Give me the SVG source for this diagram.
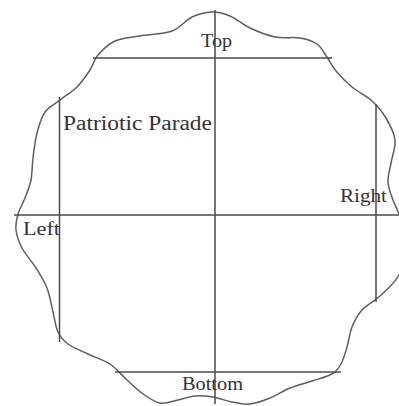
<svg xmlns="http://www.w3.org/2000/svg" width="399" height="406" viewBox="0 0 399 406">
<style>
.ln{stroke:#4a4a4a;stroke-width:1.5;fill:none}
.ol{stroke:#5e5e5e;stroke-width:1.5;fill:none}
.t{font-family:"Liberation Serif","DejaVu Serif",serif;font-size:19px;fill:#333}
.big{font-size:20px}
</style>
<rect width="399" height="406" fill="#fff"/>
<g id="outline">
<path class="ol" d="M212,12 C218.3,11.8 223.7,13.3 230,16 S242.5,24.5 250,28 S266.7,35.3 275,37 S293,36.8 300,38 S312.5,40.8 317,44 S323.8,52.5 327,57 S331.8,66 336,71 S346,82 352,87 S366.3,95.8 372,101 S382.2,111.5 386,118 S394.2,132.5 395,140 S392.2,156 391,163 S387.7,175.8 388,182 S390.8,193.7 393,200 S399,212 401,220 S405.3,238.8 405,248 S403.2,267 399,275 S386.2,290.2 380,296 S366.7,304.8 362,310 S354.5,320.8 352,327 S348.8,340.8 347,347 S343.5,359.5 341,364 S336.8,371.2 332,374 S319,378.7 312,381 S297,385.2 290,388 S276.7,395.3 270,398 S256.3,403.3 250,404 S238.2,403.2 232,402 S219.2,398 213,397 S200.8,395.5 195,396 S183.8,398.8 178,400 S165.8,404 160,403 S148.7,398 143,394 S131.5,384 126,379 S116.3,368.2 110,364 S95,357.3 88,354 S73,347.7 68,344 S60.5,337.3 58,332 S54.8,319.3 53,312 S49.8,295.3 47,288 S40.2,274.7 36,268 S25.3,254.3 22,248 S16.7,235.7 16,230 S16.5,219.3 18,214 S22.8,203.7 25,198 S29.7,186.7 31,180 S32,165.8 33,158 S35,140.7 37,133 S41.2,117.5 45,112 S54.7,104.2 60,100 S72,92 77,87 S86.5,75.3 90,70 S93.8,59.8 98,55 S108,44.2 115,41 S130.5,37.7 140,36 S163.3,34.2 172,31 S185.3,20.2 192,17 S205.7,12.2 212,12 Z"/>
</g>
<g id="connectors">
<line class="ln" x1="215" y1="10" x2="215" y2="404"/>
<line class="ln" x1="14" y1="215" x2="399" y2="215"/>
<line class="ln" x1="93" y1="58" x2="332" y2="58"/>
<line class="ln" x1="115" y1="372" x2="341" y2="372"/>
<line class="ln" x1="59.5" y1="97" x2="59.5" y2="342"/>
<line class="ln" x1="376" y1="104" x2="376" y2="302"/>
</g>
<g id="top"><text class="t" x="201" y="47" textLength="31" lengthAdjust="spacingAndGlyphs">Top</text></g>
<g id="patriotic-parade"><text class="t big" x="63" y="130" textLength="149" lengthAdjust="spacingAndGlyphs">Patriotic Parade</text></g>
<g id="right"><text class="t" x="340" y="202" textLength="47" lengthAdjust="spacingAndGlyphs">Right</text></g>
<g id="left"><text class="t" x="23" y="235" textLength="37" lengthAdjust="spacingAndGlyphs">Left</text></g>
<g id="bottom"><text class="t" x="182" y="390" textLength="61" lengthAdjust="spacingAndGlyphs">Bottom</text></g>
</svg>
